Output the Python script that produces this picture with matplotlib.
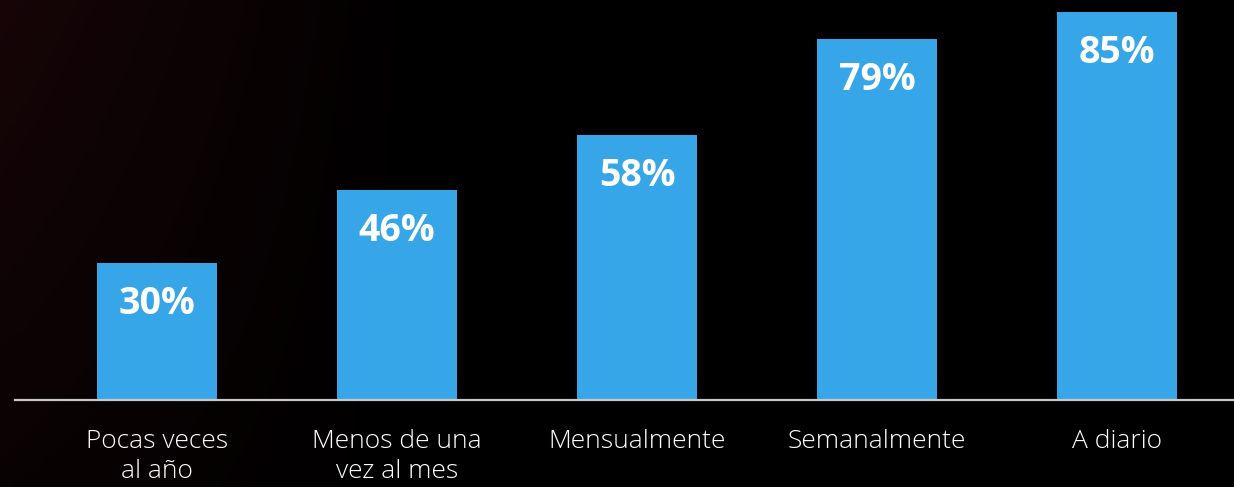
import numpy as np
import matplotlib.pyplot as plt

categorias = ["Pocas veces\nal año", "Menos de una\nvez al mes", "Mensualmente", "Semanalmente", "A diario"]
valores = [30, 46, 58, 79, 85]

fig = plt.figure(figsize=(12.34, 4.87), dpi=100)
fig.patch.set_facecolor("black")

# fondo: negro con un tinte rojizo a la izquierda
bg = fig.add_axes([0, 0, 1, 1])
gx = np.linspace(0, 1, 300)
gy = np.linspace(0, 1, 120)
X, Y = np.meshgrid(gx, gy)
tinte = np.clip(1 - X / 0.35, 0, 1) * (0.4 + 0.6 * Y)
img = np.zeros((120, 300, 3))
img[..., 0] = 0.09 * tinte
img[..., 1] = 0.02 * tinte
img[..., 2] = 0.03 * tinte
bg.imshow(img, aspect="auto", origin="lower", extent=[0, 1, 0, 1])
bg.axis("off")

ax = fig.add_axes([15 / 1234, 87 / 487, 1219 / 1234, 400 / 487])
ax.set_facecolor("none")
x = np.arange(len(categorias))
barras = ax.bar(x, valores, width=0.5, color="#37a6e8")

for b, v in zip(barras, valores):
    ax.annotate(f"{v}%", (b.get_x() + b.get_width() / 2, v), xytext=(0, -29.5),
                textcoords="offset points", ha="center", va="center",
                color="white", fontsize=27, fontweight="bold", family="Open Sans")

ax.set_xlim(-0.592, 4.4875)
ax.set_ylim(0, 87.6)
ax.set_xticks(x)
ax.set_xticklabels(categorias, color="white", fontsize=19, family="Open Sans",
                   fontweight="light", linespacing=1.27)
ax.tick_params(axis="x", length=0, pad=21)
ax.set_yticks([])
for s in ["top", "right", "left"]:
    ax.spines[s].set_visible(False)
ax.spines["bottom"].set_color("#c8c8c8")
ax.spines["bottom"].set_linewidth(1.6)

plt.savefig("out.png", dpi=100, facecolor=fig.get_facecolor())
